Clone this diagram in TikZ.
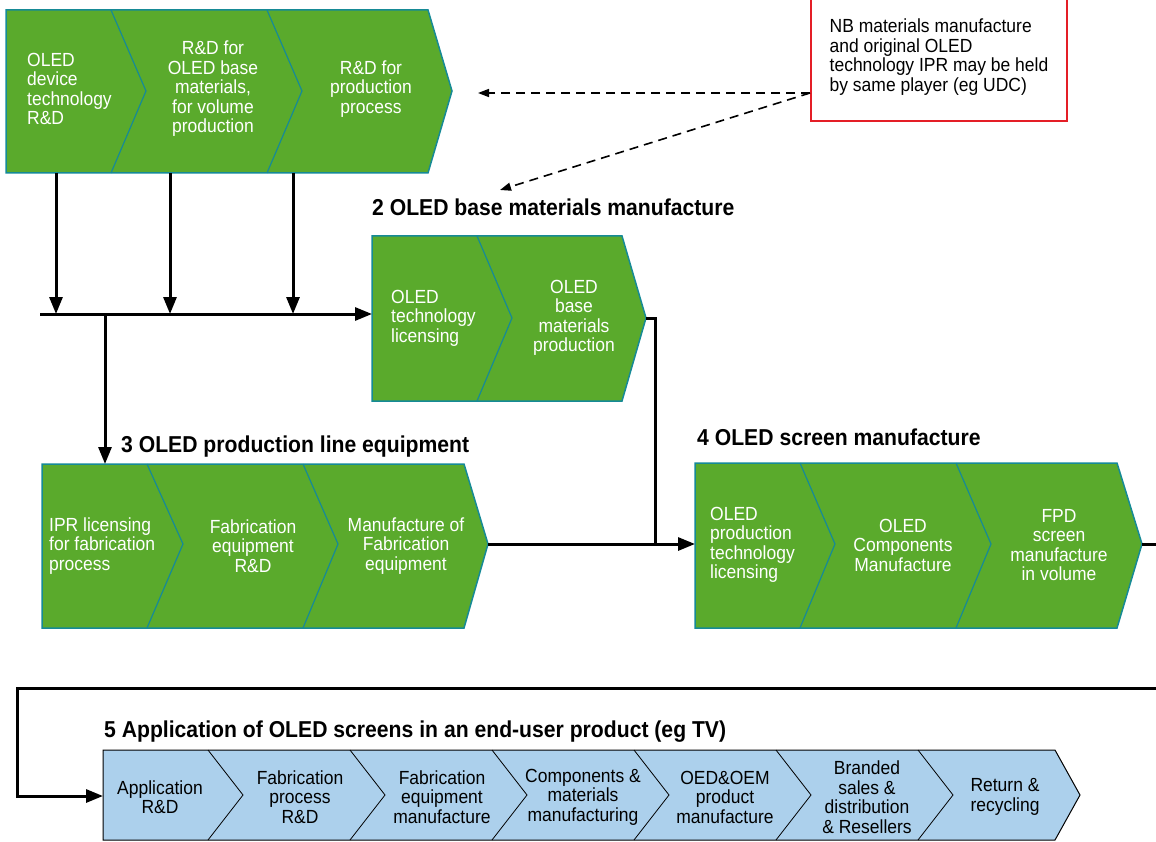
\documentclass[tikz,border=0pt]{standalone}
\usepackage{fontspec}
\setmainfont{Liberation Sans}[FakeStretch=0.92]
\usetikzlibrary{arrows.meta,calc,positioning}
\definecolor{oledgreen}{RGB}{90,170,44}
\definecolor{oledteal}{RGB}{22,138,150}
\definecolor{oledblue}{RGB}{172,208,236}
\definecolor{notered}{RGB}{228,30,38}

\begin{document}
\begin{tikzpicture}[
  x=1pt, y=-1pt,
  greenbar/.style={fill=oledgreen, draw=oledteal, line width=1.5pt},
  greendiv/.style={draw=oledteal, line width=1.2pt},
  bluebar/.style={fill=oledblue, draw=black, line width=1pt},
  bluediv/.style={draw=black, line width=0.8pt},
  stagetext/.style={text=white, font=\fontsize{19}{19.5}\selectfont, align=center, inner sep=0pt},
  stageleft/.style={stagetext, align=left, anchor=west},
  usetext/.style={stagetext, text=black},
  title/.style={font=\bfseries\fontsize{23}{26}\selectfont, inner sep=0pt, anchor=base west},
  flow/.style={line width=3pt, -{Triangle[length=17pt,width=13pt]}},
  link/.style={line width=3pt},
  hint/.style={line width=1.6pt, dash pattern=on 9pt off 6pt, -{Triangle[length=11pt,width=8pt]}},
  notebox/.style={draw=notered, line width=2pt, minimum width=256pt, minimum height=128pt,
    inner sep=0pt, align=left, font=\fontsize{19}{19.5}\selectfont}
]
\useasboundingbox (0,0) rectangle (1156,842);

% 1 research and development
\draw[greenbar] (6,10) -- (428,10) -- (452,91) -- (428,173) -- (6,173) -- cycle;
\draw[greendiv] (111,10) -- (146,91) -- (111,173);
\draw[greendiv] (267,10) -- (302,91) -- (267,173);
\node[stageleft] (rd1) at (27,89) {OLED\\device\\technology\\R\&D};
\node[stagetext] (rd2) at (213,89) {R\&D for\\OLED base\\materials,\\for volume\\production};
\node[stagetext] (rd3) at (371,89) {R\&D for\\production\\process};

% note box
\node[notebox, anchor=south west] (nb) at (810,122)
  {NB materials manufacture\\and original OLED\\technology IPR may be held\\by same player (eg UDC)};
\coordinate (nb port) at (810,93);
\coordinate (hint rd) at (478,93);
\coordinate (hint base) at (500,190);
\draw[hint] (nb port) -- (hint rd);
\draw[hint] (nb port) -- (hint base);

% 2 base materials
\node[title] (t2) at (372,216) {2 OLED base materials manufacture};
\draw[greenbar] (372,236) -- (622,236) -- (646,318) -- (622,401) -- (372,401) -- cycle;
\draw[greendiv] (477,236) -- (512,318) -- (477,401);
\node[stageleft] (bm1) at (391,318) {OLED\\technology\\licensing};
\node[stagetext] (bm2) at (574,318) {OLED\\base\\materials\\production};

% 3 production line equipment
\node[title] (t3) at (121,452) {3 OLED production line equipment};
\draw[greenbar] (42,464) -- (464,464) -- (488,544) -- (464,628) -- (42,628) -- cycle;
\draw[greendiv] (147,464) -- (183,544) -- (147,628);
\draw[greendiv] (303,464) -- (338,544) -- (303,628);
\node[stageleft] (pe1) at (49,546) {IPR licensing\\for fabrication\\process};
\node[stagetext] (pe2) at (253,546) {Fabrication\\equipment\\R\&D};
\node[stagetext] (pe3) at (406,546) {Manufacture of\\Fabrication\\equipment};

% 4 screen manufacture
\node[title] (t4) at (697,445) {4 OLED screen manufacture};
\draw[greenbar] (695,463) -- (1117,463) -- (1142,544) -- (1117,628) -- (695,628) -- cycle;
\draw[greendiv] (800,463) -- (835,544) -- (800,628);
\draw[greendiv] (956,463) -- (991,544) -- (956,628);
\node[stageleft] (sm1) at (710,545) {OLED\\production\\technology\\licensing};
\node[stagetext] (sm2) at (903,545) {OLED\\Components\\Manufacture};
\node[stagetext] (sm3) at (1059,545) {FPD\\screen\\manufacture\\in volume};

% 5 end-user product
\node[title] (t5) at (104,737) {5 Application of OLED screens in an end-user product (eg TV)};
\draw[bluebar] (103,750) -- (1055,750) -- (1080,795) -- (1055,840) -- (103,840) -- cycle;
\foreach \x in {208,350,...,918}
  \draw[bluediv] (\x,750) -- ++(35,45) -- ++(-35,45);
\node[usetext] (ap1) at (160,797) {Application\\R\&D};
\node[usetext] (ap2) at (300,797) {Fabrication\\process\\R\&D};
\node[usetext] (ap3) at (442,797) {Fabrication\\equipment\\manufacture};
\node[usetext] (ap4) at (583,797) {Components \&\\materials\\manufacturing};
\node[usetext] (ap5) at (725,797) {OED\&OEM\\product\\manufacture};
\node[usetext] (ap6) at (867,797) {Branded\\sales \&\\distribution\\\& Resellers};
\node[usetext] (ap7) at (1005,797) {Return \&\\recycling};

% connectors
\coordinate (rd1 out) at (56,173);
\coordinate (rd2 out) at (170,173);
\coordinate (rd3 out) at (293,173);
\coordinate (bus start) at (40,314);
\coordinate (bus split) at (105,314);
\coordinate (bm in) at (372,314);
\coordinate (pe in) at (105,464);
\draw[flow] (rd1 out) -- (rd1 out |- bus start);
\draw[flow] (rd2 out) -- (rd2 out |- bus start);
\draw[flow] (rd3 out) -- (rd3 out |- bus start);
\draw[flow] (bus start) -- (bm in);
\draw[flow] (bus split) -- (pe in);

\coordinate (bm out) at (646,318);
\coordinate (bm turn) at (655,318);
\coordinate (pe out) at (488,544);
\coordinate (sm in) at (695,544);
\draw[link] (bm out) -- (bm turn) -- (bm turn |- pe out);
\draw[flow] (pe out) -- (sm in);

\coordinate (sm out) at (1142,544);
\coordinate (sm edge) at (1156,544);
\coordinate (loop in) at (1156,688);
\coordinate (loop corner) at (17,688);
\coordinate (ap in) at (103,796);
\draw[link] (sm out) -- (sm edge);
\draw[flow] (loop in) -- (loop corner) -- (loop corner |- ap in) -- (ap in);
\end{tikzpicture}
\end{document}
